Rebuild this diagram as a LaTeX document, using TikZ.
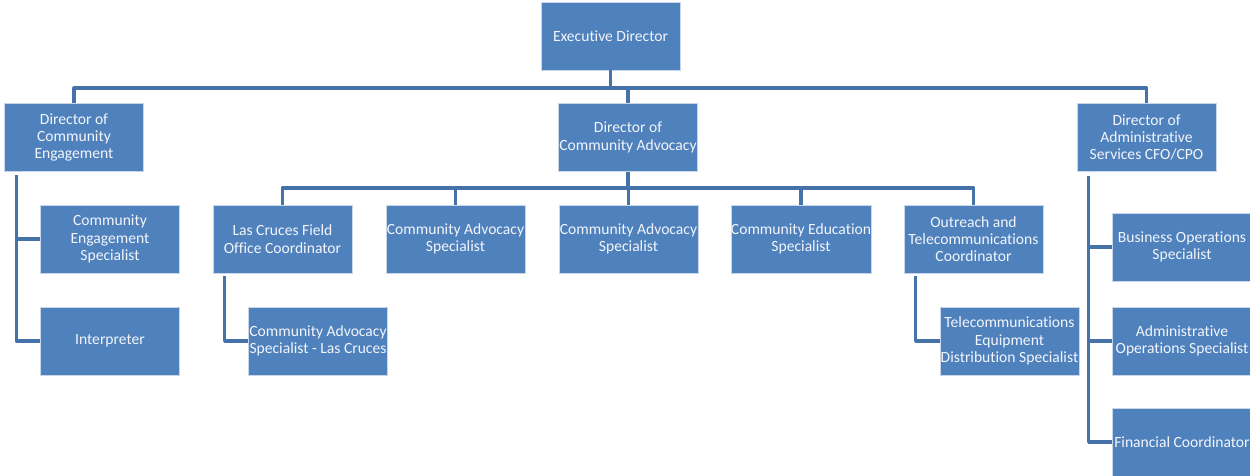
\documentclass[tikz,border=0pt]{standalone}
\usepackage{fontspec}
\setmainfont{Carlito}[Ligatures={NoCommon}]
\definecolor{boxfill}{RGB}{79,129,189}
\definecolor{boxline}{RGB}{200,214,234}
\definecolor{conn}{RGB}{69,114,168}
\definecolor{txt}{RGB}{242,245,250}
\begin{document}
\begin{tikzpicture}[x=1pt,y=-1pt,
  unit/.style={draw=boxline, line width=0.8pt, fill=boxfill, text=txt,
    minimum width=139pt, minimum height=68pt, inner sep=0pt, align=center,
    font=\fontsize{15.6}{17.3}\selectfont},
  link/.style={draw=conn, line width=3.2pt, line join=round}]
\useasboundingbox (0,0) rectangle (1250,475);
\clip (0,0) rectangle (1250,475);
% nodes
\node[unit] (ed)   at (610.5,36)  {Executive Director};
\node[unit] (dce)  at (74,137.5)  {Director of\\Community\\Engagement};
\node[unit] (dca)  at (628,137.5) {Director of\\Community Advocacy};
\node[unit] (dad)  at (1146.5,137.5) {Director of\\Administrative\\Services CFO/CPO};
\node[unit] (ces)  at (110,239)   {Community\\Engagement\\Specialist};
\node[unit] (int)  at (110,341)   {Interpreter};
\node[unit] (lc)   at (282.5,239) {Las Cruces Field\\Office Coordinator};
\node[unit] (cas1) at (455.5,239) {Community Advocacy\\Specialist};
\node[unit] (cas2) at (628.5,239) {Community Advocacy\\Specialist};
\node[unit] (cedu) at (801,239)   {Community Education\\Specialist};
\node[unit] (ot)   at (973.5,239) {Outreach and\\Telecommunications\\Coordinator};
\node[unit] (lcs)  at (318,341)   {Community Advocacy\\Specialist - Las Cruces};
\node[unit] (teds) at (1009.5,341) {Telecommunications\\Equipment\\Distribution Specialist};
\node[unit] (bos)  at (1182,247)  {Business Operations\\Specialist};
\node[unit] (aos)  at (1182,341)  {Administrative\\Operations Specialist};
\node[unit] (fc)   at (1182,442)  {Financial Coordinator};
% bus coordinates
\coordinate (bus1) at (0,88);
\coordinate (bus2) at (0,188);
\coordinate (lv) at ([shift={(12,3)}]dce.south west);
\coordinate (lcv) at ([shift={(12,3)}]lc.south west);
\coordinate (otv) at ([shift={(12,3)}]ot.south west);
\coordinate (rv) at ([shift={(12,4)}]dad.south west);
% top level
\draw[link] (ed.south) -- (ed.south |- bus1);
\draw[link] (dce.north) |- (dad.north |- bus1) -- (dad.north);
\draw[link] (dca.north) -- (dca.north |- bus1);
% community engagement
\draw[link] (lv) |- (ces.west);
\draw[link] (lv) |- (int.west);
% community advocacy
\draw[link] (dca.south) -- (dca.south |- bus2);
\draw[link] (lc.north) |- (ot.north |- bus2) -- (ot.north);
\draw[link] (cas1.north) -- (cas1.north |- bus2);
\draw[link] (cas2.north) -- (cas2.north |- bus2);
\draw[link] (cedu.north) -- (cedu.north |- bus2);
\draw[link] (lcv) |- (lcs.west);
\draw[link] (otv) |- (teds.west);
% administrative services
\draw[link] (rv) |- (bos.west);
\draw[link] (rv) |- (aos.west);
\draw[link] (rv) |- (fc.west);
\end{tikzpicture}
\end{document}
